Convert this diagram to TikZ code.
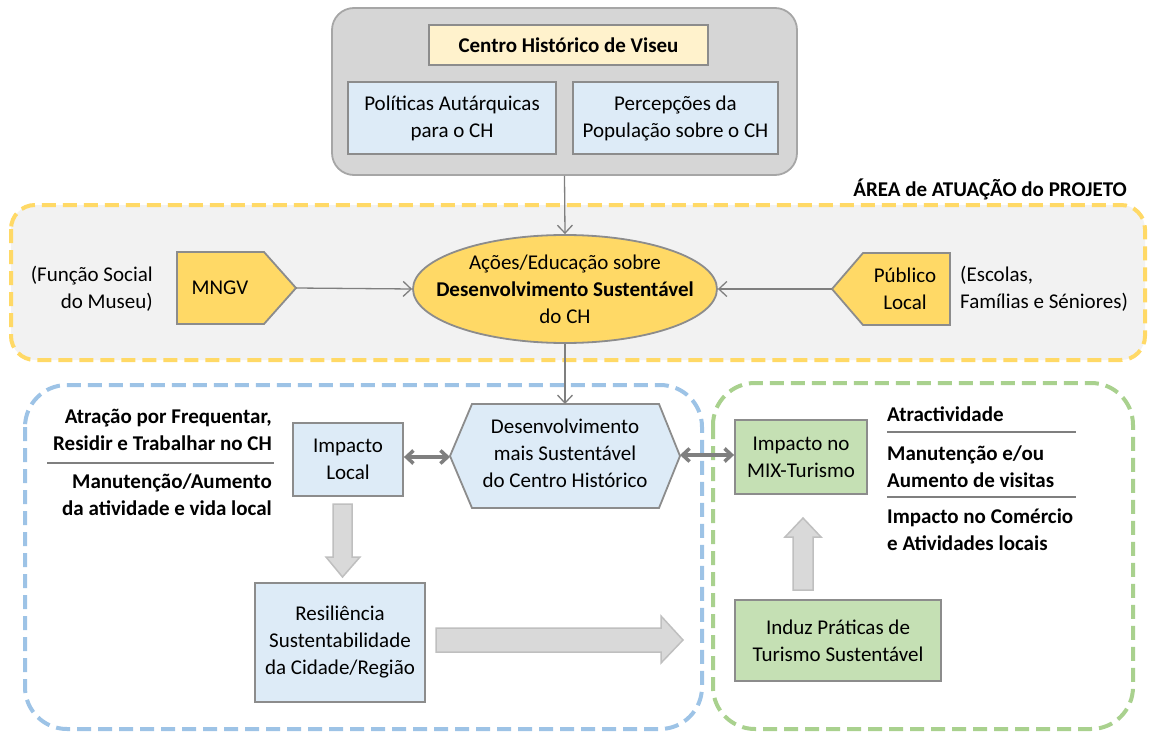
\documentclass[tikz,border=0pt]{standalone}
\usepackage{fontspec}
\setmainfont{Carlito}
\usetikzlibrary{arrows.meta,shapes.geometric}
\definecolor{boxline}{HTML}{8C8C8C}
\definecolor{outergray}{HTML}{D6D6D6}
\definecolor{outerline}{HTML}{A6A6A6}
\definecolor{lightyellow}{HTML}{FFF2CC}
\definecolor{lightblue}{HTML}{DDEBF7}
\definecolor{gold}{HTML}{FFD966}
\definecolor{panelgray}{HTML}{F2F2F2}
\definecolor{lightgreen}{HTML}{C5E0B4}
\definecolor{dashyellow}{HTML}{FFD966}
\definecolor{dashblue}{HTML}{9DC3E6}
\definecolor{dashgreen}{HTML}{A9D18E}
\definecolor{arrowgray}{HTML}{7F7F7F}
\definecolor{blockfill}{HTML}{D9D9D9}
\definecolor{blockline}{HTML}{BFBFBF}
\begin{document}
\begin{tikzpicture}[x=1pt,y=-1pt,
  every node/.style={inner sep=0pt, font=\fontsize{21}{27}\selectfont},
  box/.style={draw=boxline, line width=1.8pt, align=center},
  txt/.style={align=center},
  dashedpanel/.style={line width=4pt, dash pattern=on 14pt off 7pt},
  thinarrow/.style={draw=arrowgray, line width=1.3pt, -{Straight Barb[length=8pt,width=15pt]}},
  dblarrow/.style={draw=arrowgray, line width=3.5pt, {Straight Barb[length=7pt,width=13pt]}-{Straight Barb[length=7pt,width=13pt]}},
  blockarrow/.style={fill=blockfill, draw=blockline, line width=1.5pt},
  shapeline/.style={draw=boxline, line width=1.8pt},
  sep/.style={draw=arrowgray, line width=1.3pt}
]
\useasboundingbox (0,0) rectangle (1149,733);

% ---------- top gray block ----------
\node[draw=outerline, fill=outergray, line width=1.8pt, rounded corners=22pt,
      minimum width=465pt, minimum height=167pt] (top) at (564.5,91.5) {};
\node[box, fill=lightyellow, minimum width=279pt, minimum height=40pt, font=\fontsize{21}{27}\selectfont\bfseries]
  (centro) at (568.5,45) {Centro Histórico de Viseu};
\node[box, fill=lightblue, minimum width=208pt, minimum height=72pt] (pol) at (452,118)
  {Políticas Autárquicas\\para o CH};
\node[box, fill=lightblue, minimum width=205pt, minimum height=72pt] (perc) at (675.5,118)
  {Percepções da\\População sobre o CH};

% ---------- yellow dashed panel ----------
\node[font=\fontsize{21}{27}\selectfont\bfseries, anchor=east] (area) at (1127,189)
  {ÁREA de ATUAÇÃO do PROJETO};
\draw[dashedpanel, draw=dashyellow, fill=panelgray, rounded corners=24pt]
  (11,205) rectangle (1145,360);

\node[draw=boxline, fill=gold, line width=1.8pt, ellipse,
      minimum width=304pt, minimum height=108pt] (ell) at (565,289) {};
\node[txt] (elltext) at (ell.center)
  {Ações/Educação sobre\\\textbf{Desenvolvimento Sustentável}\\do CH};

% MNGV pentagon
\draw[shapeline, fill=gold] (177,252) -- (264,252) -- (296,288) -- (264,324) -- (177,324) -- cycle;
\coordinate (mngvtip) at (296,288);
\node (mngv) at (220,288) {MNGV};
\node[align=right, anchor=east] (funcao) at (153,289) {(Função Social\\do Museu)};

% Publico pentagon
\draw[shapeline, fill=gold] (832,289) -- (863,253) -- (950,253) -- (950,325) -- (863,325) -- cycle;
\coordinate (pubtip) at (832,289);
\node[txt] (pub) at (905,289) {Público\\Local};
\node[align=left, anchor=west] (escolas) at (960,289) {(Escolas,\\Famílias e Séniores)};

% ---------- blue and green dashed panels ----------
\draw[dashedpanel, draw=dashblue, rounded corners=42pt] (25,385) rectangle (702,729);
\draw[dashedpanel, draw=dashgreen, rounded corners=42pt] (713,383) rectangle (1133,729);

% hexagon
\draw[shapeline, fill=lightblue] (450,456) -- (472,404) -- (659,404) -- (680,456) -- (659,508) -- (472,508) -- cycle;
\coordinate (hexN) at (565,404);
\coordinate (hexW) at (450,457);
\coordinate (hexE) at (680,455);
\node[txt] (hex) at (565,453) {Desenvolvimento\\mais Sustentável\\do Centro Histórico};

\node[box, fill=lightblue, minimum width=110pt, minimum height=73pt] (imp) at (348,459.5)
  {Impacto\\Local};
\node[box, fill=lightblue, minimum width=170pt, minimum height=119pt] (res) at (340,642.5)
  {Resiliência\\Sustentabilidade\\da Cidade/Região};
\node[box, fill=lightgreen, minimum width=132pt, minimum height=74pt] (mix) at (801,457)
  {Impacto no\\MIX-Turismo};
\node[box, fill=lightgreen, minimum width=206pt, minimum height=81pt] (induz) at (838,640.5)
  {Induz Práticas de\\Turismo Sustentável};

% left annotations
\node[align=right, anchor=east, font=\fontsize{21}{27}\selectfont\bfseries] (atr) at (272,430)
  {Atração por Frequentar,\\Residir e Trabalhar no CH};
\coordinate (l1a) at (47,463);
\coordinate (l1b) at (274,463);
\draw[sep] (l1a) -- (l1b);
\node[align=right, anchor=east, font=\fontsize{21}{27}\selectfont\bfseries] (man) at (272,495)
  {Manutenção/Aumento\\da atividade e vida local};

% right annotations
\node[anchor=west, font=\fontsize{21}{27}\selectfont\bfseries] (atract) at (887,414) {Atractividade};
\coordinate (l2a) at (887,432);
\coordinate (l2b) at (1076,432);
\draw[sep] (l2a) -- (l2b);
\node[align=left, anchor=west, font=\fontsize{21}{27}\selectfont\bfseries] (visitas) at (887,467)
  {Manutenção e/ou\\Aumento de visitas};
\coordinate (l3a) at (887,497);
\coordinate (l3b) at (1076,497);
\draw[sep] (l3a) -- (l3b);
\node[align=left, anchor=west, font=\fontsize{21}{27}\selectfont\bfseries] (comercio) at (887,530)
  {Impacto no Comércio\\e Atividades locais};

% ---------- connectors ----------
\draw[thinarrow] (top.south) -- (ell.north);
\draw[thinarrow] (mngvtip) -- (ell.west);
\draw[thinarrow] (pubtip) -- (ell.east);
\draw[thinarrow] (ell.south) -- (hexN);
\draw[dblarrow] (imp.east |- hexW) -- (hexW);
\draw[dblarrow] (hexE) -- (mix.west |- hexE);

% block arrows
\draw[blockarrow] (333,504) -- (352,504) -- (352,557) -- (360,557) -- (342.5,577) -- (326,557) -- (333,557) -- cycle;
\draw[blockarrow] (436,628) -- (661,628) -- (661,616) -- (683,640) -- (661,663) -- (661,652) -- (436,652) -- cycle;
\draw[blockarrow] (793,590) -- (793,537) -- (785,537) -- (803,518) -- (821,537) -- (813,537) -- (813,590) -- cycle;
\end{tikzpicture}
\end{document}
